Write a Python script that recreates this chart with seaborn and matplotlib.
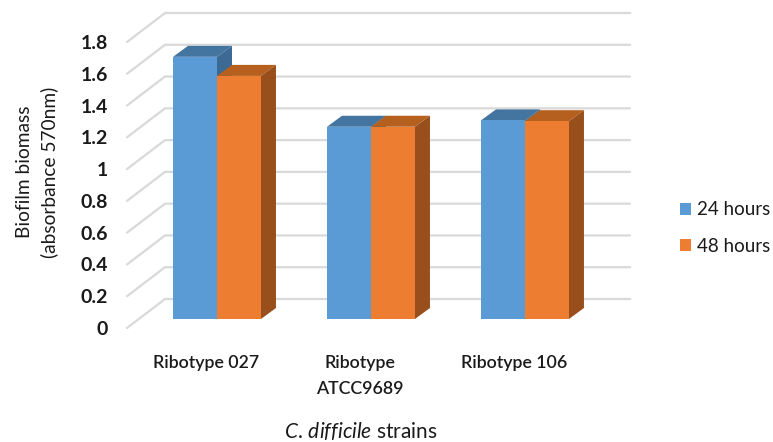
import pandas as pd
import matplotlib
matplotlib.use('Agg')
import matplotlib.pyplot as plt
import seaborn as sns
from matplotlib.patches import Polygon
from matplotlib.lines import Line2D
from matplotlib.transforms import Affine2D, IdentityTransform

# values
strains = ['Ribotype 027', 'Ribotype\nATCC9689', 'Ribotype 106']
hours_24 = [1.65, 1.21, 1.25]
hours_48 = [1.53, 1.21, 1.245]
series_names = ['24 hours', '48 hours']
y_ticks = [0, 0.2, 0.4, 0.6, 0.8, 1, 1.2, 1.4, 1.6, 1.8]
y_tick_labels = ['0', '0.2', '0.4', '0.6', '0.8', '1', '1.2', '1.4', '1.6', '1.8']

colors = ['#5B9BD5', '#ED7D31']
top_colors = ['#4474A0', '#B5601F']
side_colors = ['#3C6A94', '#984F1C']
grid_color = '#D9D9D9'
text_color = '#1a1a1a'

W, H = 773, 442

sns.set_theme(style='white')
plt.rcParams['font.family'] = ['Lato', 'DejaVu Sans']
plt.rcParams['mathtext.fontset'] = 'custom'
plt.rcParams['mathtext.it'] = 'Lato:italic'
plt.rcParams['mathtext.rm'] = 'Lato'

df = pd.DataFrame({
    'strain': strains * 2,
    'value': hours_24 + hours_48,
    'series': [series_names[0]] * 3 + [series_names[1]] * 3,
})

fig = plt.figure(figsize=(W / 100, H / 100), dpi=100)
ax = fig.add_axes([140 / W, 123 / H, 462 / W, 286 / H])

sns.barplot(data=df, x='strain', y='value', hue='series', palette=colors,
            saturation=1, width=0.571, gap=0, ax=ax, zorder=3, linewidth=0)
ax.set_xlim(-0.5, 2.5)
ax.set_ylim(0, 1.8)
sns.despine(ax=ax, left=True, bottom=True)

# fake 3D: pixel offsets of the front and back of the chart floor
front = (-13, -9)
back = (25, 20)
bar_dx, bar_dy = 15, 11
pix = IdentityTransform()

for v in y_ticks:
    x0, y0 = ax.transData.transform((-0.5, v))
    x1, _ = ax.transData.transform((2.5, v))
    ax.add_line(Line2D([x0 + front[0], x0 + back[0], x1 + back[0] + 3],
                       [y0 + front[1], y0 + back[1], y0 + back[1]],
                       transform=pix, color=grid_color, lw=1.6, zorder=1, clip_on=False))

# top and side faces of each bar
for i, container in enumerate(ax.containers):
    for bar in container:
        (xa, ya), (xb, yb) = ax.transData.transform(
            [(bar.get_x(), 0), (bar.get_x() + bar.get_width(), bar.get_height())])
        ax.add_patch(Polygon([(xa, yb), (xb, yb), (xb + bar_dx, yb + bar_dy), (xa + bar_dx, yb + bar_dy)],
                             closed=True, transform=pix, fc=top_colors[i], ec='none', zorder=2, clip_on=False))
        ax.add_patch(Polygon([(xb, ya), (xb + bar_dx, ya + bar_dy), (xb + bar_dx, yb + bar_dy), (xb, yb)],
                             closed=True, transform=pix, fc=side_colors[i], ec='none', zorder=2, clip_on=False))

ax.set_yticks(y_ticks)
ax.set_yticklabels(y_tick_labels, fontsize=14, fontweight='bold', color=text_color)
ax.tick_params(axis='y', length=0, pad=23)
ax.tick_params(axis='x', length=0, pad=26)
for lab in ax.get_yticklabels():
    lab.set_transform(lab.get_transform() + Affine2D().translate(0, -9))
for lab in ax.get_xticklabels():
    lab.set_fontsize(12.8)
    lab.set_fontweight('semibold')
    lab.set_color(text_color)
    lab.set_linespacing(1.75)
    lab.set_transform(lab.get_transform() + Affine2D().translate(-11, 0))

ax.set_xlabel('')
ax.set_ylabel('')
fig.text(37 / W, 1 - 172 / H, 'Biofilm biomass\n(absorbance 570nm)', rotation=90,
         ha='center', va='center', fontsize=13.8, color=text_color, linespacing=1.5)
fig.text(361 / W, 1 - 431 / H, r'$\mathit{C.\,difficile}$ strains',
         ha='center', va='center', fontsize=15, color=text_color)

handles, labels = ax.get_legend_handles_labels()
ax.legend(handles, labels, loc='center left', bbox_to_anchor=(680 / W, 1 - 228 / H),
          bbox_transform=fig.transFigure, frameon=False, fontsize=13.5,
          handlelength=0.6, handleheight=0.6, handletextpad=0.32, labelspacing=1.05,
          labelcolor=text_color, borderpad=0, borderaxespad=0)

fig.savefig('out.png', dpi=100)
